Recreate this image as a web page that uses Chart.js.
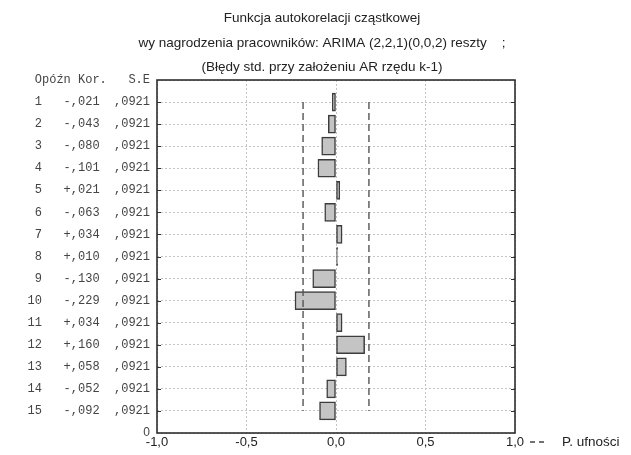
<!DOCTYPE html>
<html>
<head>
<meta charset="utf-8">
<script src="https://cdn.jsdelivr.net/npm/chart.js@4"></script>
<style>
  html, body { margin: 0; padding: 0; background: #fff; }
  #wrap { width: 631px; height: 455px; }
</style>
</head>
<body>
<div id="wrap"><canvas id="c" width="631" height="455"></canvas></div>
<script>
// ---- data ----
const lags = [1, 2, 3, 4, 5, 6, 7, 8, 9, 10, 11, 12, 13, 14, 15];
const partialCorr = [-0.021, -0.043, -0.080, -0.101, 0.021, -0.063, 0.034, 0.010, -0.130, -0.229, 0.034, 0.160, 0.058, -0.052, -0.092];
const stdErr = [0.0921, 0.0921, 0.0921, 0.0921, 0.0921, 0.0921, 0.0921, 0.0921, 0.0921, 0.0921, 0.0921, 0.0921, 0.0921, 0.0921, 0.0921];
const upperLimit = [0.184, 0.184, 0.184, 0.184, 0.184, 0.184, 0.184, 0.184, 0.184, 0.184, 0.184, 0.184, 0.184, 0.184, 0.184];
const lowerLimit = [-0.184, -0.184, -0.184, -0.184, -0.184, -0.184, -0.184, -0.184, -0.184, -0.184, -0.184, -0.184, -0.184, -0.184, -0.184];
const xTicks = [-1.0, -0.5, 0.0, 0.5, 1.0];
const headerLabel = 'Opóźn Kor.   S.E';
const titleLines = [
  'Funkcja autokorelacji cząstkowej',
  'wy nagrodzenia pracowników: ARIMA (2,2,1)(0,0,2) reszty    ;',
  '(Błędy std. przy założeniu AR rzędu k-1)'
];
const legendLabel = 'P. ufności';

// ---- helpers ----
const nRows = lags.length + 1;            // top of axis (header row)
const rowPos = lag => nRows - lag;         // lag 1 at top
const fmtCorr = v => (v < 0 ? '-' : '+') + ',' + Math.abs(v).toFixed(3).slice(2);
const fmtSE = v => ',' + v.toFixed(4).slice(2);
const rowLabel = i => String(lags[i]).padStart(2, ' ') + '   ' + fmtCorr(partialCorr[i]) + '  ' + fmtSE(stdErr[i]);

const MONO = "'Liberation Mono', 'Courier New', monospace";
const SANS = "'Liberation Sans', Arial, sans-serif";
const PAD_LEFT = 13;

const framePlugin = {
  id: 'frame',
  afterDraw(chart) {
    const { ctx, chartArea: a, scales } = chart;
    ctx.save();
    // inward tick marks at each row
    ctx.strokeStyle = '#333';
    ctx.lineWidth = 1.2;
    ctx.setLineDash([]);
    for (let i = 0; i < lags.length; i++) {
      const y = Math.round(scales.y.getPixelForValue(rowPos(lags[i]))) + 0.5;
      ctx.beginPath();
      ctx.moveTo(a.left, y); ctx.lineTo(a.left + 4, y);
      ctx.moveTo(a.right, y); ctx.lineTo(a.right - 4, y);
      ctx.stroke();
    }
    // frame
    ctx.strokeStyle = '#2e2e2e';
    ctx.lineWidth = 1.6;
    ctx.strokeRect(a.left, a.top, a.right - a.left, a.bottom - a.top);
    // legend for confidence limits
    const ly = 442;
    ctx.strokeStyle = '#444';
    ctx.lineWidth = 1.3;
    ctx.setLineDash([5, 4]);
    ctx.beginPath();
    ctx.moveTo(a.right + 15, ly); ctx.lineTo(a.right + 29, ly);
    ctx.stroke();
    ctx.setLineDash([]);
    ctx.fillStyle = '#222';
    ctx.font = '13.5px ' + SANS;
    ctx.textAlign = 'left';
    ctx.textBaseline = 'middle';
    ctx.fillText(legendLabel, a.right + 47, ly);
    ctx.restore();
  }
};

new Chart(document.getElementById('c'), {
  type: 'bar',
  data: {
    datasets: [
      {
        type: 'bar',
        data: lags.map((l, i) => ({ x: partialCorr[i], y: rowPos(l) })),
        backgroundColor: '#c4c4c4',
        borderColor: '#3c3c3c',
        borderWidth: 1.5,
        barThickness: 18,
        borderSkipped: false,
        order: 2
      },
      {
        type: 'line',
        data: lags.map((l, i) => ({ x: upperLimit[i], y: rowPos(l) })),
        borderColor: '#555',
        borderWidth: 1.4,
        borderDash: [7, 4],
        pointRadius: 0,
        fill: false,
        order: 1
      },
      {
        type: 'line',
        data: lags.map((l, i) => ({ x: lowerLimit[i], y: rowPos(l) })),
        borderColor: '#555',
        borderWidth: 1.4,
        borderDash: [7, 4],
        pointRadius: 0,
        fill: false,
        order: 1
      }
    ]
  },
  options: {
    indexAxis: 'y',
    responsive: false,
    animation: false,
    layout: { padding: { left: PAD_LEFT, right: 0, top: 0, bottom: 0 } },
    plugins: {
      legend: { display: false },
      tooltip: { enabled: false },
      title: {
        display: true,
        text: titleLines,
        color: '#222',
        font: { family: SANS, size: 13.5, weight: 'normal', lineHeight: 1.815 },
        padding: { top: 6.5, bottom: 0 }
      }
    },
    scales: {
      x: {
        type: 'linear',
        min: -1, max: 1,
        offset: false,
        afterBuildTicks: s => { s.ticks = xTicks.map(v => ({ value: v })); },
        afterFit: s => { s.height = 22; },
        grid: { color: '#c4c4c4', lineWidth: 1, drawTicks: false, offset: false },
        border: { display: false, dash: [2, 2] },
        ticks: {
          padding: 2,
          color: '#222',
          font: { family: SANS, size: 13 },
          callback: v => v.toFixed(1).replace('.', ',')
        }
      },
      y: {
        type: 'linear',
        min: 0, max: nRows,
        offset: false,
        afterFit: s => { s.width = 157 - PAD_LEFT; },
        grid: { color: '#c4c4c4', lineWidth: 1, drawTicks: false, offset: false },
        border: { display: false, dash: [2, 2] },
        ticks: {
          stepSize: 1,
          autoSkip: false,
          padding: 7,
          color: '#444',
          font: ctx => (ctx.tick && ctx.tick.value === 0)
            ? { family: SANS, size: 12 }
            : { family: MONO, size: 12 },
          callback: v => {
            if (v === 0) return '0';
            if (v === nRows) return headerLabel;
            const i = lags.indexOf(nRows - v);
            return i >= 0 ? rowLabel(i) : '';
          }
        }
      },
      yRightSpace: {
        type: 'linear',
        position: 'right',
        min: 0, max: 1,
        afterFit: s => { s.width = 631 - 515; },
        grid: { display: false, drawOnChartArea: false },
        border: { display: false },
        ticks: { display: false }
      }
    }
  },
  plugins: [framePlugin]
});
</script>
</body>
</html>
